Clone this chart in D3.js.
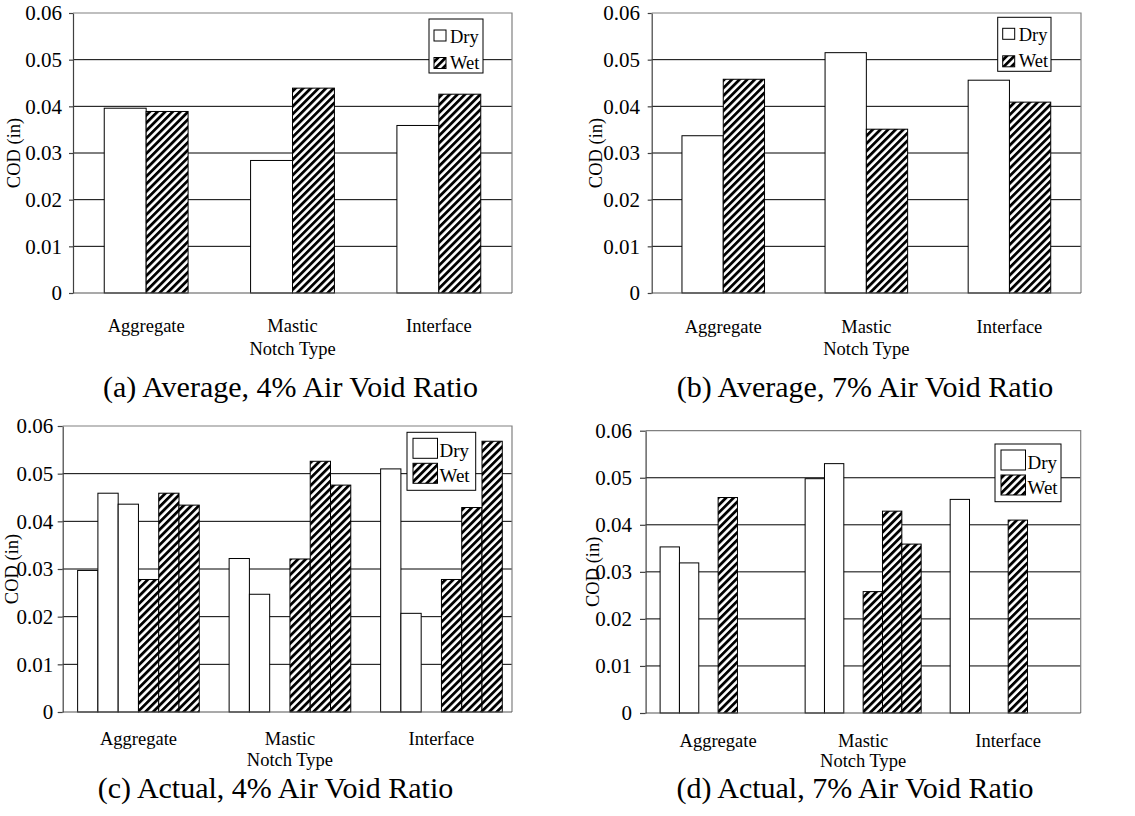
<!DOCTYPE html>
<html>
<head>
<meta charset="utf-8">
<script src="https://cdn.jsdelivr.net/npm/d3@7"></script>
<style>
  html, body { margin: 0; padding: 0; background: #fff; }
  svg { display: block; }
</style>
</head>
<body>
<svg id="fig" width="1135" height="816"></svg>
<script>
// ---- data -------------------------------------------------------------
const categories = ["Aggregate", "Mastic", "Interface"];
const yTicks = [0, 0.01, 0.02, 0.03, 0.04, 0.05, 0.06];
const yTickLabels = ["0", "0.01", "0.02", "0.03", "0.04", "0.05", "0.06"];
const legendLabels = ["Dry", "Wet"];
const xAxisTitle = "Notch Type";
const yAxisTitle = "COD (in)";

// (a) averages, 4% air voids
const avg4Dry = [0.0396, 0.0284, 0.0359];
const avg4Wet = [0.0389, 0.0439, 0.0426];

// (b) averages, 7% air voids
const avg7Dry = [0.0337, 0.0515, 0.0456];
const avg7Wet = [0.0458, 0.0351, 0.0409];

// (c) individual specimens, 4% air voids (null = no specimen)
const act4Dry1 = [0.0297, 0.0322, 0.0510];
const act4Dry2 = [0.0459, 0.0247, 0.0207];
const act4Dry3 = [0.0436, null, null];
const act4Wet1 = [0.0278, 0.0321, 0.0278];
const act4Wet2 = [0.0459, 0.0526, 0.0429];
const act4Wet3 = [0.0434, 0.0476, 0.0568];

// (d) individual specimens, 7% air voids
const act7Dry1 = [0.0353, 0.0498, 0.0454];
const act7Dry2 = [0.0319, 0.0530, null];
const act7Dry3 = [null, null, null];
const act7Wet1 = [0.0458, 0.0258, 0.0410];
const act7Wet2 = [null, 0.0429, null];
const act7Wet3 = [null, 0.0359, null];

const titles = [
  "(a) Average, 4% Air Void Ratio",
  "(b) Average, 7% Air Void Ratio",
  "(c) Actual, 4% Air Void Ratio",
  "(d) Actual, 7% Air Void Ratio"
];

// ---- layout -----------------------------------------------------------
const FONT = '"Liberation Serif", "Times New Roman", serif';

const legendSmall = { swX: 5, swW: 12, swH: 11, swTops: [11, 38.5], txtX: 21, base: [23.5, 50], fs: 18.5 };
const legendBig   = { swX: 6, swW: 24.5, swH: 20, swTops: [6, 31], txtX: 32.5, base: [24.5, 49.5], fs: 19 };

const panels = [
  {
    title: titles[0],
    series: [{ kind: "Dry", values: avg4Dry }, { kind: "Wet", values: avg4Wet }],
    gap: 0.427,
    L: { left: 73, right: 512, top: 13, bottom: 293, tick: 4, pad: 7,
         catY: 332, notchY: 355, titleX: 290.5, titleY: 397, ylabX: 20 },
    legend: { x: 429, y: 19, w: 54, h: 54, style: legendSmall }
  },
  {
    title: titles[1],
    series: [{ kind: "Dry", values: avg7Dry }, { kind: "Wet", values: avg7Wet }],
    gap: 0.423,
    L: { left: 651.7, right: 1081, top: 13, bottom: 293, tick: 4, pad: 7.7,
         catY: 332.7, notchY: 355, titleX: 865, titleY: 397, ylabX: 602 },
    legend: { x: 997.7, y: 17.3, w: 53.3, h: 54, style: legendSmall }
  },
  {
    title: titles[2],
    series: [
      { kind: "Dry", values: act4Dry1 }, { kind: "Dry", values: act4Dry2 }, { kind: "Dry", values: act4Dry3 },
      { kind: "Wet", values: act4Wet1 }, { kind: "Wet", values: act4Wet2 }, { kind: "Wet", values: act4Wet3 }
    ],
    gap: 0.197,
    L: { left: 62.7, right: 512, bandRight: 517.2, top: 426, bottom: 712, tick: 5, pad: 4.4,
         catY: 745, notchY: 766, titleX: 275.5, titleY: 797.5, ylabX: 17.5 },
    legend: { x: 407, y: 432.3, w: 68.7, h: 58, style: legendBig }
  },
  {
    title: titles[3],
    series: [
      { kind: "Dry", values: act7Dry1 }, { kind: "Dry", values: act7Dry2 }, { kind: "Dry", values: act7Dry3 },
      { kind: "Wet", values: act7Wet1 }, { kind: "Wet", values: act7Wet2 }, { kind: "Wet", values: act7Wet3 }
    ],
    gap: 0.2,
    L: { left: 645.6, right: 1080.7, top: 430.7, bottom: 713, tick: 5.6, pad: 8,
         catY: 746.5, notchY: 767, titleX: 855, titleY: 798, ylabX: 599 },
    legend: { x: 995, y: 444, w: 66, h: 57.7, style: legendBig }
  }
];

// ---- drawing ----------------------------------------------------------
const svg = d3.select("#fig").attr("font-family", FONT);

// diagonal hatch used for the wet specimens
const defs = svg.append("defs");
const hatch = defs.append("pattern")
  .attr("id", "hatch")
  .attr("patternUnits", "userSpaceOnUse")
  .attr("width", 5.4).attr("height", 5.4)
  .attr("patternTransform", "rotate(45)");
hatch.append("rect").attr("width", 5.4).attr("height", 5.4).attr("fill", "#fff");
hatch.append("rect").attr("width", 2.8).attr("height", 5.4).attr("fill", "#000");

const fillFor = kind => (kind === "Wet" ? "url(#hatch)" : "#fff");

function drawPanel(p) {
  const L = p.L;
  const g = svg.append("g");

  const y = d3.scaleLinear().domain([0, 0.06]).range([L.bottom, L.top]);
  const x = d3.scaleBand()
    .domain(categories)
    .range([L.left, L.bandRight || L.right])
    .paddingInner(p.gap)
    .paddingOuter(p.gap / 2);
  const sx = d3.scaleBand().domain(d3.range(p.series.length)).range([0, x.bandwidth()]);

  // horizontal gridlines
  g.append("g").selectAll("line")
    .data(yTicks.filter(t => t > 0 && t < 0.06))
    .join("line")
    .attr("x1", L.left).attr("x2", L.right)
    .attr("y1", d => y(d)).attr("y2", d => y(d))
    .attr("stroke", "#000").attr("stroke-width", 1);

  // top and right border of the plot area
  g.append("path")
    .attr("d", `M${L.left},${y(0.06)}H${L.right}V${y(0)}`)
    .attr("fill", "none").attr("stroke", "#808080").attr("stroke-width", 1.2);

  // bars
  p.series.forEach((s, i) => {
    g.append("g").selectAll("rect")
      .data(categories.map((c, j) => ({ c, v: s.values[j] })).filter(d => d.v != null))
      .join("rect")
      .attr("x", d => x(d.c) + sx(i))
      .attr("width", sx.bandwidth())
      .attr("y", d => y(d.v))
      .attr("height", d => y(0) - y(d.v))
      .attr("fill", fillFor(s.kind))
      .attr("stroke", "#000").attr("stroke-width", 1);
  });

  // baseline
  g.append("line")
    .attr("x1", L.left).attr("x2", L.right)
    .attr("y1", y(0)).attr("y2", y(0))
    .attr("stroke", "#555").attr("stroke-width", 1.2);

  // value axis
  const yAxis = d3.axisLeft(y)
    .tickValues(yTicks)
    .tickFormat((d, i) => yTickLabels[i])
    .tickSizeInner(L.tick).tickSizeOuter(0)
    .tickPadding(L.pad);
  const yg = g.append("g")
    .attr("transform", `translate(${L.left},0)`)
    .call(yAxis)
    .attr("font-family", FONT).attr("font-size", 21);
  yg.select(".domain").attr("stroke", "#404040").attr("stroke-width", 1.2);
  yg.selectAll(".tick line").attr("stroke", "#404040").attr("stroke-width", 1.2);
  yg.selectAll(".tick text").attr("fill", "#000");

  // category axis (labels only)
  const catFs = 18.5;
  const xAxis = d3.axisBottom(x).tickSize(0).tickPadding(L.catY - L.bottom - 0.71 * catFs);
  const xg = g.append("g")
    .attr("transform", `translate(0,${L.bottom})`)
    .call(xAxis)
    .attr("font-family", FONT).attr("font-size", catFs);
  xg.select(".domain").remove();
  xg.selectAll(".tick text").attr("fill", "#000");

  // axis titles
  g.append("text")
    .attr("x", x("Mastic") + x.bandwidth() / 2).attr("y", L.notchY)
    .attr("text-anchor", "middle").attr("font-size", catFs)
    .text(xAxisTitle);

  g.append("text")
    .attr("transform", `translate(${L.ylabX},${(L.top + L.bottom) / 2}) rotate(-90)`)
    .attr("text-anchor", "middle").attr("font-size", 18.5)
    .text(yAxisTitle);

  // panel caption
  g.append("text")
    .attr("x", L.titleX).attr("y", L.titleY)
    .attr("text-anchor", "middle").attr("font-size", 30)
    .text(p.title);

  // legend
  const lg = p.legend, st = lg.style;
  const leg = g.append("g").attr("transform", `translate(${lg.x},${lg.y})`);
  leg.append("rect")
    .attr("width", lg.w).attr("height", lg.h)
    .attr("fill", "#fff").attr("stroke", "#000").attr("stroke-width", 1);
  legendLabels.forEach((lab, i) => {
    leg.append("rect")
      .attr("x", st.swX).attr("y", st.swTops[i])
      .attr("width", st.swW).attr("height", st.swH)
      .attr("fill", fillFor(lab)).attr("stroke", "#000").attr("stroke-width", 1);
    leg.append("text")
      .attr("x", st.txtX).attr("y", st.base[i])
      .attr("font-size", st.fs)
      .text(lab);
  });
}

panels.forEach(drawPanel);
</script>
</body>
</html>
